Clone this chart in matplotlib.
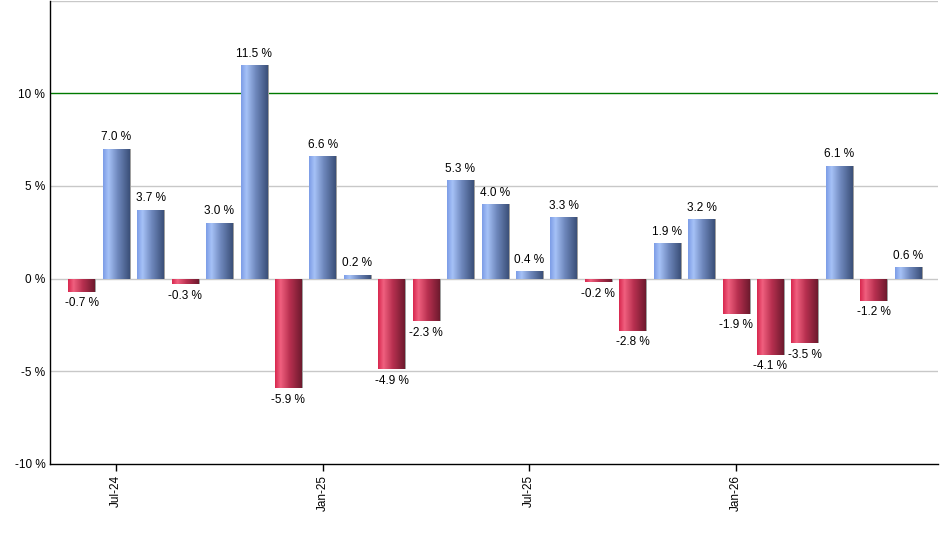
import numpy as np
import matplotlib
matplotlib.use("Agg")
from matplotlib import pyplot as plt
from matplotlib.colors import LinearSegmentedColormap

# monthly returns, Jun-24 .. Jun-26
months = ["Jun-24", "Jul-24", "Aug-24", "Sep-24", "Oct-24", "Nov-24", "Dec-24",
          "Jan-25", "Feb-25", "Mar-25", "Apr-25", "May-25", "Jun-25", "Jul-25",
          "Aug-25", "Sep-25", "Oct-25", "Nov-25", "Dec-25", "Jan-26", "Feb-26",
          "Mar-26", "Apr-26", "May-26", "Jun-26"]
values = [-0.7, 7.0, 3.7, -0.3, 3.0, 11.5, -5.9, 6.6, 0.2, -4.9, -2.3, 5.3, 4.0,
          0.4, 3.3, -0.2, -2.8, 1.9, 3.2, -1.9, -4.1, -3.5, 6.1, -1.2, 0.6]
tick_labels = ["Jul-24", "Jan-25", "Jul-25", "Jan-26"]
yticks = [-10, -5, 0, 5, 10]

plt.rcParams['font.family'] = ['Liberation Sans', 'DejaVu Sans']

blue = LinearSegmentedColormap.from_list("b", [(0, "#7d9de6"), (0.2, "#a6c2f7"),
                                               (0.55, "#6f88bd"), (1, "#3b5079")])
red = LinearSegmentedColormap.from_list("r", [(0, "#d8284f"), (0.2, "#f0607f"),
                                              (0.55, "#b83050"), (1, "#6e1a2e")])

fig = plt.figure(figsize=(9.4, 5.5), dpi=100)
ax = fig.add_axes([49.5 / 940, 86 / 550, (938 - 49.5) / 940, 463.5 / 550])

x = np.arange(len(values))
w = 0.775
grad = np.linspace(0, 1, 64).reshape(1, -1)

for yy in [-5, 0, 5, 15]:
    ax.axhline(yy, color="#c8c8c8", lw=1, zorder=1)
ax.axhline(10, color="#007a00", lw=1, zorder=1)

bars = ax.bar(x, values, width=w, color="none", edgecolor="none", zorder=2)
for b, v in zip(bars, values):
    x0 = b.get_x()
    # thin shadow on the right side
    ax.add_patch(plt.Rectangle((x0 + w, min(0, v)), 0.04, abs(v),
                               color="#a0a0a0", zorder=2, lw=0))
    im = ax.imshow(grad, cmap=blue if v >= 0 else red, aspect="auto",
                   extent=(x0, x0 + w, min(0, v), max(0, v)), zorder=3,
                   interpolation="bilinear")
    im.set_clip_path(b)
    lbl = "%.1f %%" % v
    if v >= 0:
        ax.annotate(lbl, (b.get_x() + w / 2, v), xytext=(0, 4),
                    textcoords="offset points", ha="center", va="bottom", fontsize=8.5)
    else:
        ax.annotate(lbl, (b.get_x() + w / 2, v), xytext=(0, -4),
                    textcoords="offset points", ha="center", va="top", fontsize=8.5)

ax.set_xlim(-0.935, 24.87)
ax.set_ylim(-10, 15)
ax.set_yticks(yticks)
ax.set_yticklabels(["%d %%" % t for t in yticks], fontsize=8.5)
ax.set_xticks([months.index(m) for m in tick_labels])
ax.set_xticklabels(tick_labels, rotation=90, fontsize=8.5)
ax.tick_params(axis="y", length=0, pad=3)
ax.tick_params(axis="x", length=5, width=1, direction="out", pad=3)
for s in ["top", "right"]:
    ax.spines[s].set_visible(False)
for s in ["left", "bottom"]:
    ax.spines[s].set_color("black")
    ax.spines[s].set_linewidth(1)

fig.savefig("out.png", dpi=100)
